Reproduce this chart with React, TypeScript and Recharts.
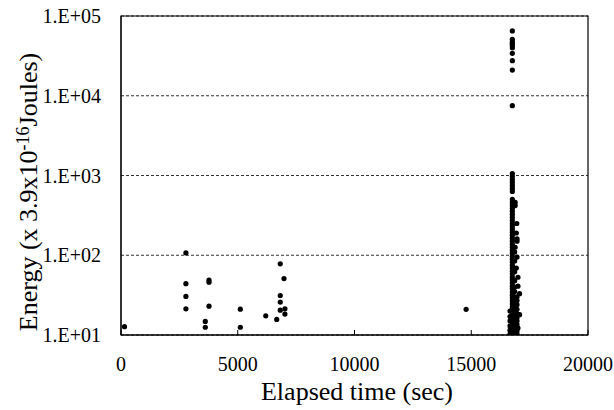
import {
  ScatterChart,
  Scatter,
  XAxis,
  YAxis,
  CartesianGrid,
  ReferenceArea,
} from "recharts";

const serif = '"Liberation Serif", "Times New Roman", serif';

// isolated events before the burst
const sparseTimes = [
  150, 2780, 2780, 2780, 2780, 3770, 3770, 3770, 3610, 3610, 5110, 5110,
  6200, 6670, 6820, 6980, 6820, 6820, 6820, 7020, 7020, 14780,
];
const sparseEnergies = [
  12.7, 107, 44, 30.5, 21.3, 48.7, 46, 23, 14.8, 12.5, 21.1, 12.5, 17.4,
  15.7, 78, 51, 31.3, 25.9, 20.5, 21.3, 18.3, 21,
];

// main burst column around 16760 s
const burstTime = 16760;
const burstEnergies = [
  65000, 51000, 47500, 45500, 43000, 40000, 34000, 27500, 21000, 7500,
  1059, 972, 891, 818, 750, 688, 631,
  501, 460, 422, 387, 355, 326, 299, 274, 251, 230, 211, 194, 178, 163, 150,
  137, 126, 115, 106, 97, 89, 82, 75, 69, 63, 58, 53, 49, 45, 41, 38, 34.5,
  31.6, 29, 26.6, 24.4, 22.4, 20.5, 18.8, 17.3, 15.8, 14.5, 13.3, 12.2, 11.2,
  10.3,
];

// points spreading to either side of the burst column
const sideTimes = [
  16880, 16880, 16950, 16930, 16960, 16960, 16880, 16960, 16930, 17000,
  17000, 17070, 16960, 17070, 17000,
  16860, 16860, 16860, 16860, 16860, 16860, 16860, 16860, 16860, 16860,
  16860, 16860, 16860, 16860, 16860, 16860,
  16960, 16960, 16960, 16960, 16960, 16960, 16960, 16960, 16960, 16960,
  16660, 16660, 16660, 16660, 16660, 16660,
];
const sideEnergies = [
  460, 420, 250, 190, 160, 150, 126, 95, 69, 53, 41, 33, 27, 18, 12.2,
  110, 85, 62, 48, 40, 35, 30, 26, 23, 20, 18, 16, 14.5, 13, 11.5, 10.3,
  30, 24, 21, 18.5, 16.5, 15, 13.5, 12.3, 11.2, 10.3,
  20, 17, 15, 13, 11.5, 10.3,
];

const xTicks = [0, 5000, 10000, 15000, 20000];
const yTicks = [10, 100, 1000, 10000, 100000];

const data = [
  ...sparseTimes.map((t, i) => ({ t, e: sparseEnergies[i] })),
  ...burstEnergies.map((e) => ({ t: burstTime, e })),
  ...sideTimes.map((t, i) => ({ t, e: sideEnergies[i] })),
];

const fmtExp = (v: number) =>
  "1.E+" + String(Math.round(Math.log10(v))).padStart(2, "0");

const Dot = (p: any) => <circle cx={p.cx} cy={p.cy} r={2.6} fill="#000" />;

export default function App() {
  return (
    <div style={{ width: 614, height: 410, background: "#fff" }}>
      <style>{"body{margin:0}"}</style>
      <ScatterChart
        width={614}
        height={410}
        margin={{ top: 16, right: 26, bottom: 0, left: 0 }}
      >
        <CartesianGrid
          vertical={false}
          stroke="#333"
          strokeDasharray="3 2"
        />
        <XAxis
          type="number"
          dataKey="t"
          domain={[0, 20000]}
          ticks={xTicks}
          allowDataOverflow
          height={75}
          tickSize={-5}
          tickMargin={27}
          axisLine={{ stroke: "#000" }}
          tickLine={{ stroke: "#000" }}
          tick={{ fill: "#000", fontSize: 20, fontFamily: serif }}
          label={{
            content: () => (
              <text
                x={357}
                y={400}
                textAnchor="middle"
                fontSize={26}
                fontFamily={serif}
                fill="#000"
              >
                Elapsed time (sec)
              </text>
            ),
          }}
        />
        <YAxis
          type="number"
          dataKey="e"
          scale="log"
          domain={[10, 100000]}
          ticks={yTicks}
          allowDataOverflow
          width={121}
          tickLine={false}
          tickMargin={14}
          tickFormatter={fmtExp}
          axisLine={{ stroke: "#000" }}
          tick={{ fill: "#000", fontSize: 20, fontFamily: serif }}
          label={{
            content: () => (
              <text
                transform="rotate(-90)"
                x={-192}
                y={37}
                textAnchor="middle"
                fontSize={26}
                fontFamily={serif}
                fill="#000"
              >
                Energy (x 3.9x10
                <tspan dy={-8} fontSize={18}>
                  -16
                </tspan>
                <tspan dy={8}>Joules)</tspan>
              </text>
            ),
          }}
        />
        <ReferenceArea
          x1={0}
          x2={20000}
          y1={10}
          y2={100000}
          fill="none"
          stroke="#000"
          strokeWidth={1.2}
        />
        <Scatter data={data} shape={Dot} isAnimationActive={false} />
      </ScatterChart>
    </div>
  );
}
